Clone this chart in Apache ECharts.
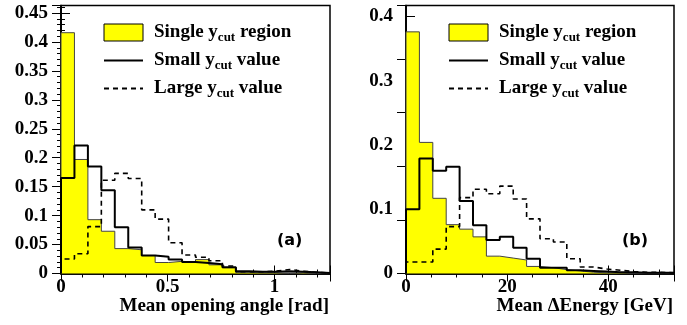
<!DOCTYPE html>
<html>
<head>
<meta charset="utf-8">
<script src="https://cdn.jsdelivr.net/npm/echarts@6/dist/echarts.min.js"></script>
<style>
  html, body { margin: 0; padding: 0; background: #fff; }
  #main { width: 687px; height: 325px; }
</style>
</head>
<body>
<div id="main"></div>
<script>
// panel (a): mean opening angle, 20 bins from 0 to angleMax
const angleMax = 1.26;
const angleTicks = [0, 0.5, 1];
const angleSingle = [0.416, 0.197, 0.093, 0.073, 0.043, 0.041, 0.031, 0.019, 0.021, 0.020,
                     0.024, 0.015, 0.010, 0.002, 0.001, 0.001, 0, 0.001, 0, 0];
const angleSmall  = [0.165, 0.221, 0.185, 0.144, 0.080, 0.045, 0.031, 0.029, 0.024, 0.020,
                     0.018, 0.016, 0.011, 0.004, 0.003, 0.003, 0.004, 0.003, 0.002, 0.001];
const angleLarge  = [0.025, 0.034, 0.081, 0.161, 0.173, 0.164, 0.110, 0.094, 0.053, 0.032,
                     0.028, 0.022, 0.013, 0.003, 0.003, 0.004, 0.007, 0.004, 0.002, 0.001];

// panel (b): mean delta energy, 20 bins from 0 to energyMax
const energyMax = 53;
const energyTicks = [0, 20, 40];
const energySingle = [0.376, 0.204, 0.117, 0.076, 0.069, 0.057, 0.027, 0.024, 0.021, 0.011,
                      0.009, 0.006, 0.004, 0.002, 0.001, 0.001, 0, 0, 0, 0];
const energySmall  = [0.100, 0.179, 0.160, 0.166, 0.113, 0.075, 0.052, 0.057, 0.040, 0.023,
                      0.009, 0.009, 0.005, 0.004, 0.003, 0.002, 0.002, 0.001, 0.001, 0.001];
const energyLarge  = [0.018, 0.018, 0.038, 0.073, 0.118, 0.131, 0.124, 0.136, 0.116, 0.085,
                      0.054, 0.049, 0.023, 0.010, 0.007, 0.005, 0.003, 0.002, 0.002, 0.001];

const legendText = {
    Single: 'Single y{sub|cut} region',
    Small: 'Small y{sub|cut} value',
    Large: 'Large y{sub|cut} value'
};

const serif = 'Liberation Serif';

// histogram as step line: points at left bin edges, closed at both ends
function histPoints(values, maxX){
    const w = maxX / values.length;
    const pts = [[0, 0]];
    values.forEach(function(v, i){ pts.push([i * w, v]); });
    pts.push([maxX, values[values.length - 1]]);
    pts.push([maxX, 0]);
    return pts;
}

function histSeries(idx, single, small, large, maxX){
    return [
        {
            name: 'Single', type: 'line', step: 'end', symbol: 'none',
            xAxisIndex: idx * 2, yAxisIndex: idx * 2,
            data: histPoints(single, maxX),
            lineStyle: { color: '#444', width: 1 },
            itemStyle: { color: '#ffff00' },
            areaStyle: { color: '#ffff00', opacity: 1 },
            z: 2
        },
        {
            name: 'Small', type: 'line', step: 'end', symbol: 'none',
            xAxisIndex: idx * 2, yAxisIndex: idx * 2,
            data: histPoints(small, maxX),
            lineStyle: { color: '#000', width: 2 },
            itemStyle: { color: '#000' },
            z: 4
        },
        {
            name: 'Large', type: 'line', step: 'end', symbol: 'none',
            xAxisIndex: idx * 2, yAxisIndex: idx * 2,
            data: histPoints(large, maxX),
            lineStyle: { color: '#000', width: 1.6, type: [5, 4] },
            itemStyle: { color: '#000' },
            z: 3
        }
    ];
}

const labelStyle = { color: '#000', fontFamily: serif, fontWeight: 'bold', fontSize: 19 };
const axisLine = { show: true, lineStyle: { color: '#000', width: 1.5 } };

function xAxes(grid, maxX, interval, minorSplit){
    const base = {
        gridIndex: grid, type: 'value', min: 0, max: maxX, interval: interval,
        axisLine: axisLine,
        axisTick: { show: true, inside: true, length: 8, lineStyle: { color: '#000', width: 1 } },
        minorTick: { show: true, splitNumber: minorSplit, length: 4, lineStyle: { color: '#000', width: 1 } },
        splitLine: { show: false }
    };
    return [
        Object.assign({}, base, {
            position: 'bottom',
            axisLabel: Object.assign({ margin: 4, showMaxLabel: false }, labelStyle)
        }),
        Object.assign({}, base, { position: 'top', axisLabel: { show: false } })
    ];
}

function yAxes(grid, maxY, interval, minor, rightMax, rightInterval){
    const left = {
        gridIndex: grid, type: 'value', min: 0, max: maxY, interval: interval, position: 'left',
        axisLine: axisLine,
        axisTick: { show: true, inside: true, length: 9, lineStyle: { color: '#000', width: 1 } },
        minorTick: { show: minor, splitNumber: 5, length: 4, lineStyle: { color: '#000', width: 1 } },
        splitLine: { show: false },
        axisLabel: Object.assign({ margin: 13, showMaxLabel: false }, labelStyle)
    };
    const right = Object.assign({}, left, {
        position: 'right', min: 0, max: rightMax, interval: rightInterval,
        axisLabel: { show: false }
    });
    return [left, right];
}

function legendFor(left){
    return {
        orient: 'vertical', left: left, top: 23, padding: 0,
        itemWidth: 39, itemHeight: 17, itemGap: 7,
        selectedMode: false,
        data: [
            { name: 'Single', icon: 'rect', itemStyle: { color: '#ffff00', borderColor: '#000', borderWidth: 1 } },
            { name: 'Small', itemStyle: { opacity: 0 } },
            { name: 'Large', itemStyle: { opacity: 0 } }
        ],
        formatter: function(name){ return legendText[name]; },
        textStyle: {
            color: '#000', fontFamily: serif, fontWeight: 'bold', fontSize: 19,
            padding: [0, 0, 0, 6],
            rich: {
                sub: { color: '#000', fontFamily: serif, fontWeight: 'bold', fontSize: 13, padding: [10, 0, 0, 0] }
            }
        }
    };
}

var myChart = echarts.init(document.getElementById('main'));
var option = {
    animation: false,
    backgroundColor: '#fff',
    grid: [
        { left: 61, top: 5.5, width: 269, height: 268, show: true, borderColor: '#000', borderWidth: 1.5 },
        { left: 406, top: 5.5, width: 268, height: 268, show: true, borderColor: '#000', borderWidth: 1.5 }
    ],
    xAxis: xAxes(0, angleMax, angleTicks[1] - angleTicks[0], 5)
        .concat(xAxes(1, energyMax, energyTicks[1] - energyTicks[0], 4)),
    yAxis: yAxes(0, 0.463, 0.05, true, 0.463, 0.05)
        .concat(yAxes(1, 0.417, 0.1, false, 5, 1)),
    legend: [legendFor(103), legendFor(448)],
    series: histSeries(0, angleSingle, angleSmall, angleLarge, angleMax)
        .concat(histSeries(1, energySingle, energySmall, energyLarge, energyMax)),
    graphic: [
        { type: 'text', right: 687 - 329, top: 297,
          style: { text: 'Mean opening angle [rad]', fill: '#000', font: 'bold 19px ' + serif } },
        { type: 'text', right: 687 - 673, top: 297,
          style: { text: 'Mean \u0394Energy [GeV]', fill: '#000', font: 'bold 19px ' + serif } },
        { type: 'text', left: 277, top: 233,
          style: { text: '(a)', fill: '#000', font: 'bold 16px DejaVu Sans' } },
        { type: 'text', left: 622, top: 233,
          style: { text: '(b)', fill: '#000', font: 'bold 16px DejaVu Sans' } }
    ]
};
myChart.setOption(option);
</script>
</body>
</html>
